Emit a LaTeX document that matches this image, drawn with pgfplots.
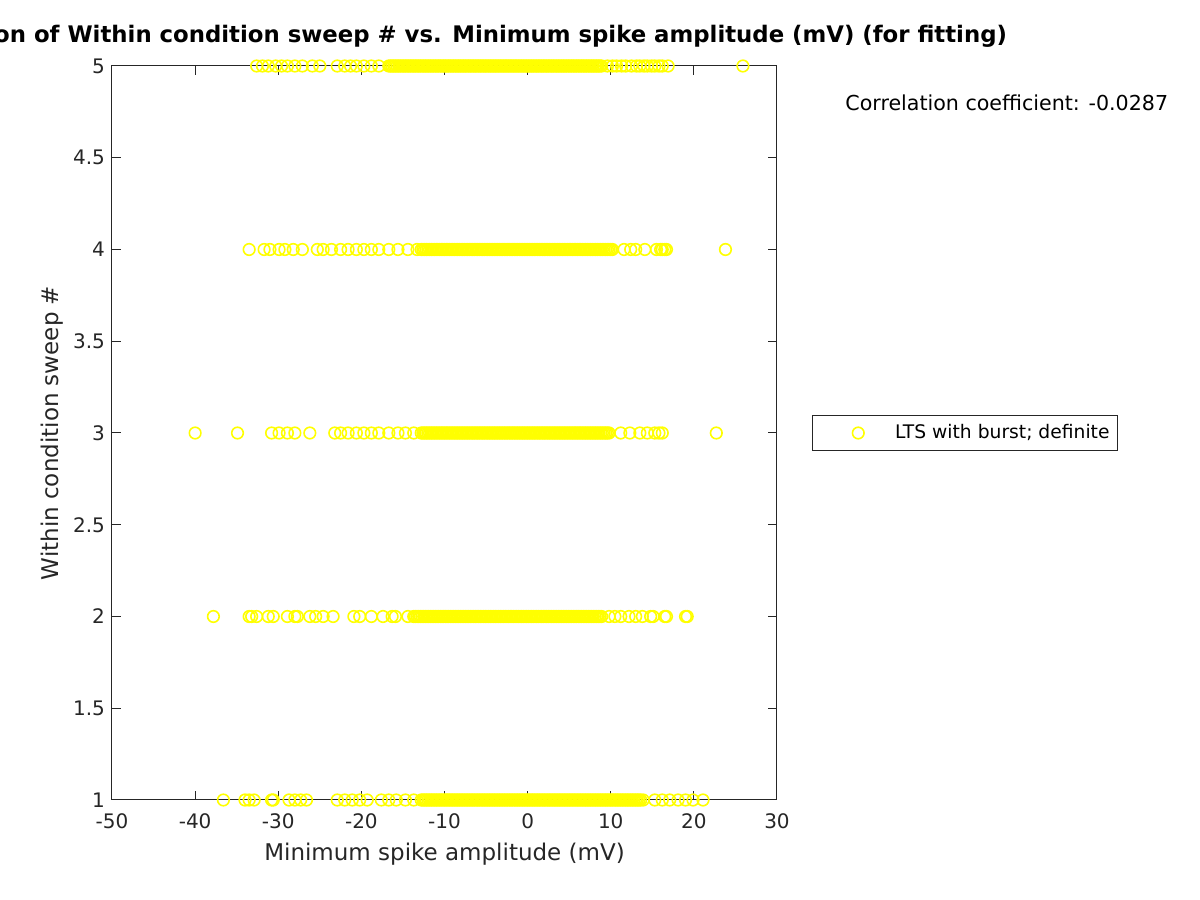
\documentclass[border=0pt]{standalone}
\usepackage{fontspec}
\setmainfont{DejaVu Sans}
\usepackage{pgfplots}
\pgfplotsset{compat=1.18}
\definecolor{axgray}{rgb}{0.15,0.15,0.15}
\definecolor{ltsyellow}{rgb}{1,1,0}

\begin{document}
\begin{tikzpicture}
\useasboundingbox (0,0) rectangle (600pt,450pt);
\begin{axis}[
    at={(56pt,50pt)}, anchor=south west,
    scale only axis, width=332.5pt, height=367pt,
    xmin=-50, xmax=30, ymin=1, ymax=5,
    xtick={-50,-40,...,30}, ytick={1,1.5,...,5},
    xticklabels={-50,-40,-30,-20,-10,0,10,20,30},
    yticklabels={1,1.5,2,2.5,3,3.5,4,4.5,5},
    tick align=inside, major tick length=4.5pt,
    axis line style={axgray, line width=0.5pt},
    every tick/.style={axgray, line width=0.5pt},
    ticklabel style={font=\fontsize{10}{12}\selectfont, text=axgray},
    xticklabel style={yshift=-3.5pt},
    label style={font=\fontsize{11.5}{13}\selectfont, text=axgray},
    xlabel={Minimum spike amplitude (mV)},
    ylabel={Within condition sweep \#},
    xlabel style={yshift=0pt},
    ylabel style={yshift=-2pt},
    title={Correlation of Within condition sweep \# vs. Minimum spike amplitude (mV) (for fitting)},
    title style={font=\bfseries\fontsize{11.4}{13}\selectfont, at={(0.5,1)}, anchor=base, yshift=5.5pt},
    legend style={at={(1.0526,0.5)}, anchor=west, draw=axgray, line width=0.5pt,
        font=\fontsize{9.35}{11}\selectfont, inner xsep=0pt, inner ysep=2.5pt,
        nodes={inner xsep=0pt}},
    legend image code/.code={\path (0pt,0pt) (40.5pt,0pt); \draw[#1] plot coordinates {(22.5pt,0pt)};},
    legend cell align=left,
    clip=false,
]
\addplot[only marks, mark=o, mark size=2.9pt, draw=ltsyellow, line width=0.8pt,
    mark options={draw=ltsyellow, line width=0.8pt}] coordinates {
    % sweep 5
    (-32.6,5) (-31.9,5) (-31.2,5) (-30.3,5) (-29.6,5) (-28.9,5) (-28.0,5) (-27.1,5) (-25.9,5) (-25.0,5)
    (-22.9,5) (-22.0,5) (-21.3,5) (-20.6,5) (-19.7,5) (-18.8,5) (-17.9,5)
    (-16.7,5) (-16.5,5) (-16.3,5) (-16.1,5) (-15.9,5) (-15.7,5) (-15.5,5) (-15.3,5) (-15.1,5) (-14.9,5)
    (-14.7,5) (-14.5,5) (-14.3,5) (-14.1,5) (-13.9,5) (-13.7,5) (-13.5,5) (-13.3,5) (-13.1,5) (-12.9,5)
    (-12.7,5) (-12.5,5) (-12.3,5) (-12.1,5) (-11.9,5) (-11.7,5) (-11.5,5) (-11.3,5) (-11.1,5) (-10.9,5)
    (-10.7,5) (-10.5,5) (-10.3,5) (-10.1,5) (-9.9,5) (-9.7,5) (-9.5,5) (-9.3,5) (-9.1,5) (-8.9,5)
    (-8.7,5) (-8.5,5) (-8.3,5) (-8.1,5) (-7.9,5) (-7.7,5) (-7.5,5) (-7.3,5) (-7.1,5) (-6.9,5)
    (-6.7,5) (-6.5,5) (-6.3,5) (-6.1,5) (-5.9,5) (-5.7,5) (-5.5,5) (-5.3,5) (-5.1,5) (-4.9,5)
    (-4.7,5) (-4.5,5) (-4.3,5) (-4.1,5) (-3.9,5) (-3.7,5) (-3.5,5) (-3.3,5) (-3.1,5) (-2.9,5)
    (-2.7,5) (-2.5,5) (-2.3,5) (-2.1,5) (-1.9,5) (-1.7,5) (-1.5,5) (-1.3,5) (-1.1,5) (-0.9,5)
    (-0.7,5) (-0.5,5) (-0.3,5) (-0.1,5) (0.1,5) (0.3,5) (0.5,5) (0.7,5) (0.9,5) (1.1,5)
    (1.3,5) (1.5,5) (1.7,5) (1.9,5) (2.1,5) (2.3,5) (2.5,5) (2.7,5) (2.9,5) (3.1,5)
    (3.3,5) (3.5,5) (3.7,5) (3.9,5) (4.1,5) (4.3,5) (4.5,5) (4.7,5) (4.9,5) (5.1,5)
    (5.3,5) (5.5,5) (5.7,5) (5.9,5) (6.1,5) (6.3,5) (6.5,5) (6.7,5) (6.9,5) (7.1,5)
    (7.3,5) (7.5,5) (7.7,5) (7.9,5) (8.1,5) (8.3,5) (8.5,5) (8.7,5) (8.9,5)
    (9.6,5) (10.2,5) (10.7,5) (11.3,5) (11.8,5) (12.5,5) (13.1,5) (13.5,5) (14.0,5) (14.4,5)
    (14.9,5) (15.3,5) (15.8,5) (16.2,5) (16.9,5) (25.9,5)
    % sweep 4
    (-33.5,4) (-31.7,4) (-31.0,4) (-29.9,4) (-29.2,4) (-28.2,4) (-27.1,4) (-25.3,4) (-24.6,4) (-23.6,4)
    (-22.5,4) (-21.6,4) (-20.6,4) (-19.7,4) (-18.8,4) (-17.9,4) (-16.7,4) (-15.6,4) (-14.4,4) (-13.3,4)
    (-12.8,4) (-12.6,4) (-12.4,4) (-12.2,4) (-12.0,4) (-11.8,4) (-11.6,4) (-11.4,4) (-11.2,4) (-11.0,4)
    (-10.8,4) (-10.6,4) (-10.4,4) (-10.2,4) (-10.0,4) (-9.8,4) (-9.6,4) (-9.4,4) (-9.2,4) (-9.0,4)
    (-8.8,4) (-8.6,4) (-8.4,4) (-8.2,4) (-8.0,4) (-7.8,4) (-7.6,4) (-7.4,4) (-7.2,4) (-7.0,4)
    (-6.8,4) (-6.6,4) (-6.4,4) (-6.2,4) (-6.0,4) (-5.8,4) (-5.6,4) (-5.4,4) (-5.2,4) (-5.0,4)
    (-4.8,4) (-4.6,4) (-4.4,4) (-4.2,4) (-4.0,4) (-3.8,4) (-3.6,4) (-3.4,4) (-3.2,4) (-3.0,4)
    (-2.8,4) (-2.6,4) (-2.4,4) (-2.2,4) (-2.0,4) (-1.8,4) (-1.6,4) (-1.4,4) (-1.2,4) (-1.0,4)
    (-0.8,4) (-0.6,4) (-0.4,4) (-0.2,4) (0.0,4) (0.2,4) (0.4,4) (0.6,4) (0.8,4) (1.0,4)
    (1.2,4) (1.4,4) (1.6,4) (1.8,4) (2.0,4) (2.2,4) (2.4,4) (2.6,4) (2.8,4) (3.0,4)
    (3.2,4) (3.4,4) (3.6,4) (3.8,4) (4.0,4) (4.2,4) (4.4,4) (4.6,4) (4.8,4) (5.0,4)
    (5.2,4) (5.4,4) (5.6,4) (5.8,4) (6.0,4) (6.2,4) (6.4,4) (6.6,4) (6.8,4) (7.0,4)
    (7.2,4) (7.4,4) (7.6,4) (7.8,4) (8.0,4) (8.2,4) (8.4,4) (8.6,4) (8.8,4) (9.0,4)
    (9.2,4) (9.4,4) (9.6,4) (9.8,4) (10.0,4) (10.2,4)
    (11.6,4) (12.4,4) (13.0,4) (14.1,4) (15.5,4) (16.0,4) (16.2,4) (16.5,4) (16.7,4) (23.8,4)
    % sweep 3
    (-40.0,3) (-34.9,3) (-30.8,3) (-29.9,3) (-28.9,3) (-28.0,3) (-26.2,3) (-23.2,3) (-22.5,3) (-21.6,3)
    (-20.6,3) (-19.7,3) (-18.8,3) (-17.9,3) (-16.7,3) (-15.6,3) (-14.7,3) (-13.7,3)
    (-12.8,3) (-12.6,3) (-12.4,3) (-12.2,3) (-12.0,3) (-11.8,3) (-11.6,3) (-11.4,3) (-11.2,3) (-11.0,3)
    (-10.8,3) (-10.6,3) (-10.4,3) (-10.2,3) (-10.0,3) (-9.8,3) (-9.6,3) (-9.4,3) (-9.2,3) (-9.0,3)
    (-8.8,3) (-8.6,3) (-8.4,3) (-8.2,3) (-8.0,3) (-7.8,3) (-7.6,3) (-7.4,3) (-7.2,3) (-7.0,3)
    (-6.8,3) (-6.6,3) (-6.4,3) (-6.2,3) (-6.0,3) (-5.8,3) (-5.6,3) (-5.4,3) (-5.2,3) (-5.0,3)
    (-4.8,3) (-4.6,3) (-4.4,3) (-4.2,3) (-4.0,3) (-3.8,3) (-3.6,3) (-3.4,3) (-3.2,3) (-3.0,3)
    (-2.8,3) (-2.6,3) (-2.4,3) (-2.2,3) (-2.0,3) (-1.8,3) (-1.6,3) (-1.4,3) (-1.2,3) (-1.0,3)
    (-0.8,3) (-0.6,3) (-0.4,3) (-0.2,3) (0.0,3) (0.2,3) (0.4,3) (0.6,3) (0.8,3) (1.0,3)
    (1.2,3) (1.4,3) (1.6,3) (1.8,3) (2.0,3) (2.2,3) (2.4,3) (2.6,3) (2.8,3) (3.0,3)
    (3.2,3) (3.4,3) (3.6,3) (3.8,3) (4.0,3) (4.2,3) (4.4,3) (4.6,3) (4.8,3) (5.0,3)
    (5.2,3) (5.4,3) (5.6,3) (5.8,3) (6.0,3) (6.2,3) (6.4,3) (6.6,3) (6.8,3) (7.0,3)
    (7.2,3) (7.4,3) (7.6,3) (7.8,3) (8.0,3) (8.2,3) (8.4,3) (8.6,3) (8.8,3) (9.0,3)
    (9.2,3) (9.4,3) (9.6,3) (9.8,3)
    (11.2,3) (12.3,3) (13.5,3) (14.4,3) (15.3,3) (15.8,3) (16.2,3) (22.7,3)
    % sweep 2
    (-37.8,2) (-33.5,2) (-33.2,2) (-32.6,2) (-31.2,2) (-30.6,2) (-28.9,2) (-28.0,2) (-27.7,2) (-26.2,2)
    (-25.5,2) (-24.6,2) (-23.4,2) (-20.9,2) (-20.2,2) (-18.8,2) (-17.4,2) (-16.3,2) (-15.9,2) (-14.4,2)
    (-13.7,2) (-13.5,2) (-13.3,2) (-13.1,2) (-12.9,2) (-12.7,2) (-12.5,2) (-12.3,2) (-12.1,2) (-11.9,2)
    (-11.7,2) (-11.5,2) (-11.3,2) (-11.1,2) (-10.9,2) (-10.7,2) (-10.5,2) (-10.3,2) (-10.1,2) (-9.9,2)
    (-9.7,2) (-9.5,2) (-9.3,2) (-9.1,2) (-8.9,2) (-8.7,2) (-8.5,2) (-8.3,2) (-8.1,2) (-7.9,2)
    (-7.7,2) (-7.5,2) (-7.3,2) (-7.1,2) (-6.9,2) (-6.7,2) (-6.5,2) (-6.3,2) (-6.1,2) (-5.9,2)
    (-5.7,2) (-5.5,2) (-5.3,2) (-5.1,2) (-4.9,2) (-4.7,2) (-4.5,2) (-4.3,2) (-4.1,2) (-3.9,2)
    (-3.7,2) (-3.5,2) (-3.3,2) (-3.1,2) (-2.9,2) (-2.7,2) (-2.5,2) (-2.3,2) (-2.1,2) (-1.9,2)
    (-1.7,2) (-1.5,2) (-1.3,2) (-1.1,2) (-0.9,2) (-0.7,2) (-0.5,2) (-0.3,2) (-0.1,2) (0.1,2)
    (0.3,2) (0.5,2) (0.7,2) (0.9,2) (1.1,2) (1.3,2) (1.5,2) (1.7,2) (1.9,2) (2.1,2)
    (2.3,2) (2.5,2) (2.7,2) (2.9,2) (3.1,2) (3.3,2) (3.5,2) (3.7,2) (3.9,2) (4.1,2)
    (4.3,2) (4.5,2) (4.7,2) (4.9,2) (5.1,2) (5.3,2) (5.5,2) (5.7,2) (5.9,2) (6.1,2)
    (6.3,2) (6.5,2) (6.7,2) (6.9,2) (7.1,2) (7.3,2) (7.5,2) (7.7,2) (7.9,2) (8.1,2)
    (8.3,2) (8.5,2) (8.7,2) (8.9,2)
    (9.8,2) (10.5,2) (11.2,2) (12.2,2) (13.0,2) (13.8,2) (14.8,2) (15.1,2) (16.5,2) (16.7,2)
    (19.0,2) (19.2,2)
    % sweep 1
    (-36.6,1) (-34.0,1) (-33.5,1) (-32.9,1) (-30.8,1) (-30.6,1) (-28.7,1) (-28.0,1) (-27.3,1) (-26.6,1)
    (-22.9,1) (-22.0,1) (-21.1,1) (-20.2,1) (-19.3,1) (-17.6,1) (-16.7,1) (-15.8,1) (-14.7,1) (-13.7,1)
    (-12.8,1) (-12.6,1) (-12.4,1) (-12.2,1) (-12.0,1) (-11.8,1) (-11.6,1) (-11.4,1) (-11.2,1) (-11.0,1)
    (-10.8,1) (-10.6,1) (-10.4,1) (-10.2,1) (-10.0,1) (-9.8,1) (-9.6,1) (-9.4,1) (-9.2,1) (-9.0,1)
    (-8.8,1) (-8.6,1) (-8.4,1) (-8.2,1) (-8.0,1) (-7.8,1) (-7.6,1) (-7.4,1) (-7.2,1) (-7.0,1)
    (-6.8,1) (-6.6,1) (-6.4,1) (-6.2,1) (-6.0,1) (-5.8,1) (-5.6,1) (-5.4,1) (-5.2,1) (-5.0,1)
    (-4.8,1) (-4.6,1) (-4.4,1) (-4.2,1) (-4.0,1) (-3.8,1) (-3.6,1) (-3.4,1) (-3.2,1) (-3.0,1)
    (-2.8,1) (-2.6,1) (-2.4,1) (-2.2,1) (-2.0,1) (-1.8,1) (-1.6,1) (-1.4,1) (-1.2,1) (-1.0,1)
    (-0.8,1) (-0.6,1) (-0.4,1) (-0.2,1) (0.0,1) (0.2,1) (0.4,1) (0.6,1) (0.8,1) (1.0,1)
    (1.2,1) (1.4,1) (1.6,1) (1.8,1) (2.0,1) (2.2,1) (2.4,1) (2.6,1) (2.8,1) (3.0,1)
    (3.2,1) (3.4,1) (3.6,1) (3.8,1) (4.0,1) (4.2,1) (4.4,1) (4.6,1) (4.8,1) (5.0,1)
    (5.2,1) (5.4,1) (5.6,1) (5.8,1) (6.0,1) (6.2,1) (6.4,1) (6.6,1) (6.8,1) (7.0,1)
    (7.2,1) (7.4,1) (7.6,1) (7.8,1) (8.0,1) (8.2,1) (8.4,1) (8.6,1) (8.8,1) (9.0,1)
    (9.2,1) (9.4,1) (9.6,1) (9.8,1) (10.0,1) (10.2,1) (10.4,1) (10.6,1) (10.8,1) (11.0,1)
    (11.2,1) (11.4,1) (11.6,1) (11.8,1) (12.0,1) (12.2,1) (12.4,1) (12.6,1) (12.8,1) (13.0,1)
    (13.2,1) (13.4,1) (13.6,1) (13.9,1)
    (15.3,1) (16.2,1) (17.1,1) (18.1,1) (19.0,1) (19.9,1) (21.1,1)
};
\addlegendentry{LTS with burst; definite\rule{4pt}{0pt}}
\node[anchor=west, inner sep=0pt, font=\fontsize{10.3}{12}\selectfont, text=black]
    at (axis description cs:1.1023,0.9496) {Correlation coefficient: -0.0287};
\end{axis}
\end{tikzpicture}
\end{document}
